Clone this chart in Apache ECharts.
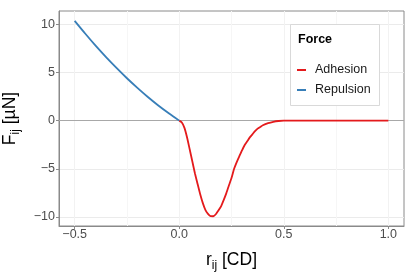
<!DOCTYPE html>
<html><head><meta charset="utf-8">
<script src="https://cdn.jsdelivr.net/npm/echarts@6/dist/echarts.min.js"></script>
<style>html,body{margin:0;padding:0;background:#fff}#c{width:415px;height:277px}</style>
</head><body><div id="c"></div>
<script>
const xTicks = [-0.5, 0, 0.5, 1.0];
const yTicks = [-10, -5, 0, 5, 10];
const xGridMinor = [-0.25, 0.25, 0.75];
const seriesNames = ['Adhesion', 'Repulsion'];
const legendTitle = 'Force';
const adhesionR = [0, 0.0125, 0.025, 0.0375, 0.05, 0.0625, 0.075, 0.0875, 0.1, 0.1125, 0.125, 0.1375, 0.15, 0.1625, 0.175, 0.1875, 0.2, 0.2125, 0.225, 0.2375, 0.25, 0.2625, 0.275, 0.2875, 0.3, 0.3125, 0.325, 0.3375, 0.35, 0.3625, 0.375, 0.3875, 0.4, 0.425, 0.45, 0.475, 0.5, 0.6, 0.7, 0.8, 0.9, 1.0];
const adhesionF = [0, -0.2, -0.75, -1.75, -2.97, -4.22, -5.46, -6.55, -7.62, -8.54, -9.26, -9.68, -9.92, -9.93, -9.72, -9.33, -8.9, -8.25, -7.55, -6.74, -5.95, -5.0, -4.3, -3.69, -3.1, -2.55, -2.15, -1.74, -1.42, -1.1, -0.83, -0.66, -0.48, -0.26, -0.12, -0.04, -0.01, 0, 0, 0, 0, 0];
const repulsionR = [-0.5, -0.45, -0.4, -0.35, -0.3, -0.25, -0.2, -0.15, -0.1, -0.05, 0];
const repulsionF = [10.35, 9.04, 7.78, 6.59, 5.47, 4.40, 3.40, 2.45, 1.57, 0.76, 0];

const xMin = -0.575, xMax = 1.075, yMin = -10.94, yMax = 11.38;
const FONT = 'Liberation Sans, Arial, sans-serif';
const fmtMinus = (s) => s.replace('-', '\u2212');

const chart = echarts.init(document.getElementById('c'), null, {renderer: 'canvas'});
chart.setOption({
  animation: false,
  backgroundColor: '#fff',
  textStyle: {fontFamily: FONT},
  grid: {left: 59, top: 11, right: 11, bottom: 51, containLabel: false, outerBoundsMode: 'none',
    show: true, borderColor: '#8a8a8a', borderWidth: 1, backgroundColor: 'transparent'},
  xAxis: {
    type: 'value', min: xMin, max: xMax,
    axisLine: {show: true, onZero: false, lineStyle: {color: '#8a8a8a', width: 1}},
    axisTick: {show: true, length: 3, customValues: xTicks, lineStyle: {color: '#8a8a8a'}},
    axisLabel: {customValues: xTicks, margin: 2, fontSize: 12.5, color: '#4d4d4d', fontFamily: FONT,
      formatter: v => fmtMinus(v.toFixed(1))},
    splitLine: {show: true, lineStyle: {color: '#f2f2f2', width: 1}},
    name: '{a|r}{s|ij}{a| [CD]}', nameLocation: 'middle', nameGap: 25,
    nameTextStyle: {fontFamily: FONT, rich: {
      a: {fontSize: 17.5, color: '#000', lineHeight: 21, verticalAlign: 'top', fontFamily: FONT},
      s: {fontSize: 12, color: '#000', lineHeight: 12, verticalAlign: 'bottom', fontFamily: FONT}
    }}
  },
  yAxis: {
    type: 'value', min: yMin, max: yMax,
    axisLine: {show: true, onZero: false, lineStyle: {color: '#8a8a8a', width: 1}},
    axisTick: {show: true, length: 3, customValues: yTicks, lineStyle: {color: '#8a8a8a'}},
    axisLabel: {customValues: yTicks, margin: 4, fontSize: 12.5, color: '#4d4d4d', fontFamily: FONT,
      formatter: v => fmtMinus(String(v))},
    splitLine: {show: true, lineStyle: {color: '#ebebeb', width: 1}},
    name: '{a|F}{s|ij}{a| [\u00B5N]}', nameLocation: 'middle', nameGap: 37, nameRotate: 90,
    nameTextStyle: {fontFamily: FONT, rich: {
      a: {fontSize: 17.5, color: '#000', lineHeight: 21, verticalAlign: 'top', fontFamily: FONT},
      s: {fontSize: 12, color: '#000', lineHeight: 12, verticalAlign: 'bottom', fontFamily: FONT}
    }}
  },
  legend: {
    data: seriesNames, orient: 'vertical', left: 297, top: 60,
    icon: 'rect', itemWidth: 9, itemHeight: 2, itemGap: 0, padding: 0,
    textStyle: {fontSize: 12.5, color: '#1a1a1a', lineHeight: 20, fontFamily: FONT, padding: [0, 0, 0, 4]},
    z: 10
  },
  graphic: [
    {type: 'rect', shape: {x: 290.5, y: 24.5, width: 89, height: 81}, style: {fill: '#fff', stroke: '#d9d9d9', lineWidth: 1}, z: 5},
    {type: 'text', x: 298, y: 40, style: {text: legendTitle, font: 'bold 12.5px ' + FONT, fill: '#000', verticalAlign: 'middle'}, z: 6}
  ],
  series: [
    {
      name: 'grid', type: 'line', data: [], silent: true, z: 1,
      markLine: {silent: true, symbol: 'none', label: {show: false}, animation: false, z: 1,
        data: [
          ...xGridMinor.map(v => ({xAxis: v, lineStyle: {color: '#f6f6f6', width: 1, type: 'solid'}})),
          {yAxis: 0, lineStyle: {color: '#a8a8a8', width: 1, type: 'solid'}}
        ]}
    },
    {name: seriesNames[0], type: 'line', data: adhesionR.map((r, i) => [r, adhesionF[i]]), showSymbol: false, smooth: 0.2,
      lineStyle: {color: '#E41A1C', width: 1.8}, itemStyle: {color: '#E41A1C'}, z: 3},
    {name: seriesNames[1], type: 'line', data: repulsionR.map((r, i) => [r, repulsionF[i]]), showSymbol: false, smooth: 0.3,
      lineStyle: {color: '#377EB8', width: 1.8}, itemStyle: {color: '#377EB8'}, z: 3}
  ]
});
</script></body></html>
